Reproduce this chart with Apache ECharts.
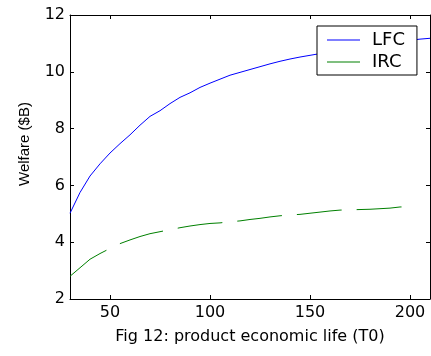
<!DOCTYPE html>
<html>
<head>
<meta charset="utf-8">
<script src="https://cdn.jsdelivr.net/npm/echarts@6/dist/echarts.min.js"></script>
<style>
  html, body { margin: 0; padding: 0; background: #fff; }
  #chart { width: 431px; height: 356px; }
</style>
</head>
<body>
<div id="chart"></div>
<script>
// product economic life T0
const lifeValues = [30, 35, 40, 45, 50, 55, 60, 65, 70, 75, 80, 85, 90, 95, 100, 105, 110, 115, 120,
  125, 130, 135, 140, 145, 150, 155, 160, 165, 170, 175, 180, 185, 190, 195, 200, 205, 210];

const lfcWelfare = [5.02, 5.75, 6.33, 6.76, 7.14, 7.47, 7.78, 8.12, 8.43, 8.63,
  8.88, 9.10, 9.26, 9.45, 9.60, 9.74, 9.88, 9.98, 10.08, 10.18,
  10.28, 10.37, 10.45, 10.52, 10.58, 10.64, 10.71, 10.78, 10.84, 10.90,
  10.95, 11.00, 11.04, 11.08, 11.11, 11.15, 11.18];

const ircWelfare = [2.80, 3.10, 3.40, 3.60, 3.78, 3.95, 4.08, 4.20, 4.30, 4.37,
  4.44, 4.51, 4.57, 4.62, 4.66, 4.68, 4.72, 4.75, 4.80, 4.84,
  4.89, 4.93, 4.96, 4.98, 5.02, 5.06, 5.10, 5.13, 5.14, 5.15,
  5.16, 5.18, 5.20, 5.24, 5.25];

const xTicks = [50, 100, 150, 200];

const toPairs = (ys) => ys.map((y, i) => [lifeValues[i], y]);

const font = 'DejaVu Sans';

const getOption = () => {
  return {
    animation: false,
    backgroundColor: '#fff',
    grid: { left: 70, right: 1, top: 15, bottom: 57, containLabel: false, outerBoundsMode: 'none' },
    legend: {
      orient: 'vertical',
      left: 317,
      top: 26,
      padding: [5, 12, 4, 10],
      itemGap: 4,
      itemWidth: 33,
      itemHeight: 1,
      icon: 'rect',
      backgroundColor: '#fff',
      borderColor: '#000',
      borderWidth: 1,
      borderRadius: 0,
      textStyle: { fontFamily: font, fontSize: 18, color: '#000', lineHeight: 18, padding: [0, 0, 0, 7] },
      data: ['LFC', 'IRC']
    },
    xAxis: [
      {
        type: 'value', min: 30, max: 210,
        name: 'Fig 12: product economic life (T0)',
        nameLocation: 'middle', nameGap: 30,
        nameTextStyle: { fontFamily: font, fontSize: 16, color: '#000' },
        axisLine: { lineStyle: { color: '#000', width: 1 } },
        axisTick: { inside: true, length: 4, customValues: xTicks, lineStyle: { color: '#000' } },
        axisLabel: { customValues: xTicks, fontFamily: font, fontSize: 16, color: '#000', margin: 6 },
        splitLine: { show: false }
      },
      {
        type: 'value', min: 30, max: 210, position: 'top',
        axisLine: { lineStyle: { color: '#000', width: 1 } },
        axisTick: { inside: true, length: 4, customValues: xTicks, lineStyle: { color: '#000' } },
        axisLabel: { show: false },
        splitLine: { show: false }
      }
    ],
    yAxis: [
      {
        type: 'value', min: 2, max: 12, interval: 2,
        name: 'Welfare ($B)',
        nameLocation: 'middle', nameGap: 38,
        nameTextStyle: { fontFamily: 'Liberation Sans', fontSize: 15, color: '#000', padding: [0, 0, 0, 26] },
        axisLine: { show: true, lineStyle: { color: '#000', width: 1 } },
        axisTick: { show: true, inside: true, length: 4, lineStyle: { color: '#000' } },
        axisLabel: { fontFamily: font, fontSize: 16, color: '#000', margin: 5 },
        splitLine: { show: false }
      },
      {
        type: 'value', min: 2, max: 12, interval: 2, position: 'right',
        axisLine: { show: true, lineStyle: { color: '#000', width: 1 } },
        axisTick: { show: true, inside: true, length: 4, lineStyle: { color: '#000' } },
        axisLabel: { show: false },
        splitLine: { show: false }
      }
    ],
    series: [
      {
        name: 'LFC', type: 'line', symbol: 'none',
        data: toPairs(lfcWelfare),
        lineStyle: { color: '#0000ff', width: 1 },
        itemStyle: { color: '#0000ff' }
      },
      {
        name: 'IRC', type: 'line', symbol: 'none',
        data: toPairs(ircWelfare),
        lineStyle: { color: '#008000', width: 1, type: [45, 15] },
        itemStyle: { color: '#008000' }
      }
    ]
  };
};

const chart = echarts.init(document.getElementById('chart'));
chart.setOption(getOption());

window.addEventListener('resize', function () {
  chart.resize();
});
</script>
</body>
</html>
